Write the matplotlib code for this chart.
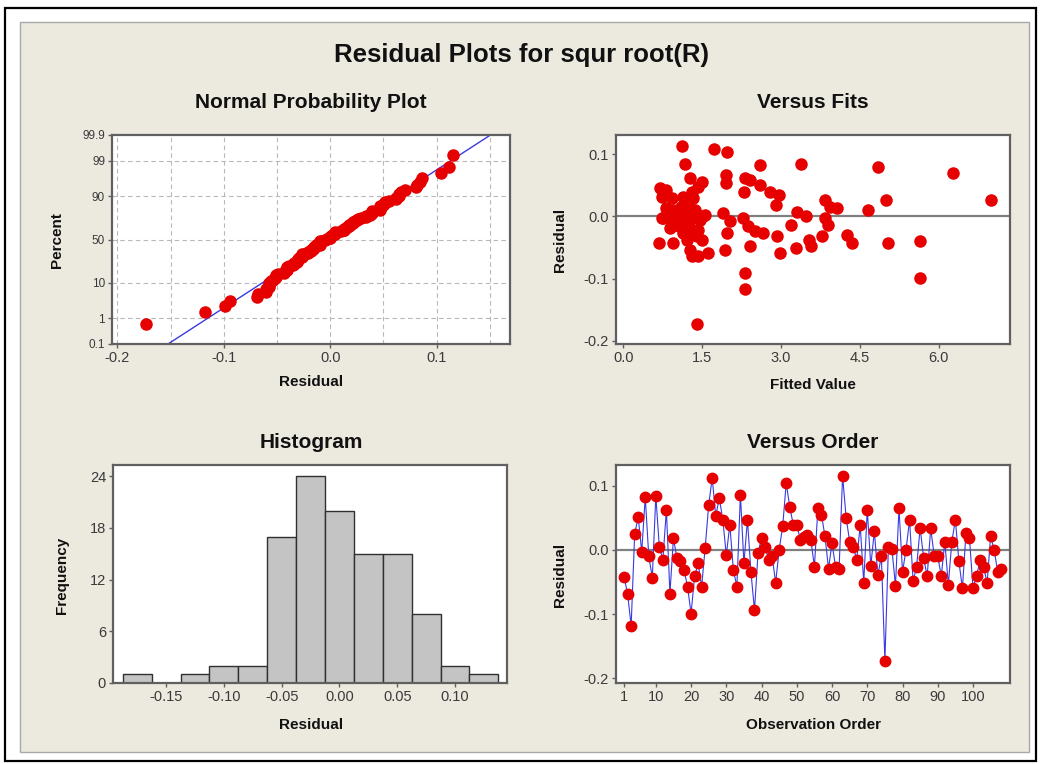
import matplotlib
matplotlib.use("Agg")
import matplotlib.pyplot as plt
from matplotlib.patches import Rectangle
from statistics import NormalDist
import numpy as np

order_resid = [
    -0.042, -0.069, -0.118, 0.025, 0.051, -0.003, 0.082, -0.010, -0.043, 0.084,
    0.004, -0.015, 0.062, -0.068, 0.018, -0.013, -0.018, -0.031, -0.057, -0.099,
    -0.041, -0.021, -0.057, 0.003, 0.070, 0.112, 0.052, 0.081, 0.047, -0.008,
    0.039, -0.031, -0.057, 0.086, -0.021, 0.047, -0.035, -0.094, -0.005, 0.019,
    0.005, -0.016, -0.010, -0.051, 0.000, 0.037, 0.104, 0.067, 0.039, 0.039,
    0.016, 0.020, 0.023, 0.015, -0.026, 0.065, 0.055, 0.021, -0.029, 0.010,
    -0.026, -0.030, 0.115, 0.050, 0.013, 0.005, -0.015, 0.038, -0.051, 0.062,
    -0.025, 0.029, -0.039, -0.010, -0.173, 0.005, 0.001, -0.056, 0.065, -0.034,
    0.000, 0.047, -0.049, -0.026, 0.034, -0.013, -0.041, 0.034, -0.010, -0.010,
    -0.041, 0.013, -0.054, 0.013, 0.047, -0.018, -0.060, 0.026, 0.018, -0.060,
    -0.041, -0.016, -0.026, -0.052, 0.021, 0.000, -0.034, -0.030,
]

# versus fits scatter (fitted value, residual)
fit_values = [
    1.12, 1.73, 1.98, 1.17, 2.60, 3.38, 4.85, 6.28, 7.00, 1.26,
    1.49, 1.43, 1.95, 1.95, 2.32, 2.41, 2.29, 2.60, 2.79, 2.97,
    2.91, 0.70, 0.82, 0.73, 0.92, 1.33, 1.24, 1.09, 1.02, 1.21,
    0.76, 0.95, 1.11, 1.05, 1.24, 1.52, 1.90, 2.03, 1.97, 2.28,
    2.38, 2.51, 2.66, 2.92, 3.20, 3.30, 3.48, 3.84, 3.93, 4.06,
    3.84, 3.90, 3.79, 3.54, 3.57, 3.29, 2.99, 4.25, 4.35, 4.66,
    5.00, 5.04, 5.65, 5.65, 2.32, 2.32, 1.41, 0.67, 0.94, 1.40,
    1.27, 1.30, 1.43, 1.62, 1.93, 2.41, 1.21, 1.49, 0.88, 1.14,
    1.43, 1.55, 1.36, 0.81, 1.14, 1.30, 0.73, 1.46, 1.05, 0.95,
    1.17, 1.33, 1.27, 0.89,
]
fit_resid = [
    0.114, 0.109, 0.103, 0.085, 0.083, 0.085, 0.079, 0.070, 0.027, 0.062,
    0.056, 0.048, 0.067, 0.054, 0.062, 0.059, 0.040, 0.051, 0.040, 0.035,
    0.019, 0.046, 0.043, 0.032, 0.029, 0.029, 0.019, 0.016, 0.005, 0.005,
    -0.003, -0.005, -0.008, -0.016, -0.013, 0.000, 0.005, -0.008, -0.027, -0.003,
    -0.016, -0.024, -0.027, -0.032, -0.013, 0.008, 0.000, 0.027, 0.016, 0.013,
    -0.003, -0.013, -0.032, -0.038, -0.048, -0.051, -0.058, -0.029, -0.043, 0.011,
    0.027, -0.043, -0.040, -0.099, -0.091, -0.117, -0.173, -0.043, -0.043, -0.032,
    -0.054, -0.064, -0.064, -0.058, -0.054, -0.048, -0.038, -0.038, -0.019, -0.027,
    -0.021, 0.003, 0.011, 0.013, 0.032, 0.040, -0.003, -0.005, 0.000, 0.011,
    -0.016, -0.021, -0.005, 0.005,
]

# histogram bins (centres) and counts
hist_centers = [-0.175, -0.150, -0.125, -0.100, -0.075, -0.050, -0.025,
                0.000, 0.025, 0.050, 0.075, 0.100, 0.125]
hist_counts = [1, 0, 1, 2, 2, 17, 24, 20, 15, 15, 8, 2, 1]

prob_ticks = [0.1, 1, 10, 50, 90, 99, 99.9]

W, H = 1041, 764
FONT = ["Liberation Sans", "DejaVu Sans"]
RED = "#E60000"
BLUE = "#3A3AE0"
SPINE = "#606060"
TICKC = "#3A3A3A"

plt.rcParams["font.family"] = FONT

fig = plt.figure(figsize=(W / 100, H / 100), dpi=100)
fig.patch.set_facecolor("white")


def frac_rect(l, t, r, b):
    return [l / W, 1 - b / H, (r - l) / W, (b - t) / H]


def fx(x):
    return x / W


def fy(y):
    return 1 - y / H


# outer frame and beige panel
fig.add_artist(Rectangle((fx(5), fy(761)), (1036 - 5) / W, (761 - 8) / H,
                         transform=fig.transFigure, fill=False,
                         ec="black", lw=1.6, zorder=-2))
fig.add_artist(Rectangle((fx(20), fy(752)), (1029 - 20) / W, (752 - 22) / H,
                         transform=fig.transFigure, fc="#ECE9DF",
                         ec="#A8A8A8", lw=1.0, zorder=-1))


def style_ax(ax):
    ax.set_facecolor("white")
    for s in ax.spines.values():
        s.set_color(SPINE)
        s.set_linewidth(1.6)
    ax.tick_params(direction="out", length=3, width=1, color=SPINE,
                   labelsize=10.5, labelcolor=TICKC, pad=2)


def label_txt(x, y, s, rot=0, size=11):
    fig.text(fx(x), fy(y), s, ha="center", va="center", rotation=rot,
             fontsize=size, fontweight="bold", color="#111111")


# titles
fig.text(fx(521), fy(55), "Residual Plots for squr root(R)", ha="center",
         va="center", fontsize=18.5, fontweight="bold", color="#111111")
label_txt(311, 103, "Normal Probability Plot", size=15)
label_txt(813, 103, "Versus Fits", size=15)
label_txt(311, 443, "Histogram", size=15)
label_txt(813, 443, "Versus Order", size=15)

# ---- normal probability plot
ax1 = fig.add_axes(frac_rect(112, 135, 510, 344))
style_ax(ax1)
res = np.array(order_resid)
srt = np.sort(res)
n = len(srt)
nd = NormalDist()
z = np.array([nd.inv_cdf((i - 0.3) / (n + 0.4)) for i in range(1, n + 1)])
zlim = nd.inv_cdf(0.999)
mu, sd = res.mean(), res.std(ddof=1)
zz = np.array([-zlim, zlim])
ax1.plot(mu + sd * zz, zz, color=BLUE, lw=1.0, zorder=2)
ax1.plot(srt, z, "o", color=RED, ms=8, mec=RED, zorder=3)
ax1.set_xlim(-0.205, 0.169)
ax1.set_ylim(-zlim, zlim)
ax1.set_yticks([nd.inv_cdf(p / 100) for p in prob_ticks])
ax1.set_yticklabels([f"{p:g}" for p in prob_ticks], fontsize=8.5)
ax1.set_xticks([-0.2, -0.1, 0.0, 0.1])
ax1.set_xticklabels(["-0.2", "-0.1", "0.0", "0.1"])
for gx in np.arange(-0.2, 0.16, 0.05):
    ax1.axvline(gx, color="#B8B8B8", lw=0.8, ls=(0, (4, 3)), zorder=1)
for p in prob_ticks[1:-1]:
    ax1.axhline(nd.inv_cdf(p / 100), color="#B8B8B8", lw=0.8,
                ls=(0, (4, 3)), zorder=1)
label_txt(311, 382, "Residual")
label_txt(57, 240, "Percent", rot=90)

# ---- versus fits
ax2 = fig.add_axes(frac_rect(616, 135, 1010, 344))
style_ax(ax2)
ax2.axhline(0, color="#808080", lw=1.6, zorder=1)
ax2.plot(fit_values, fit_resid, "o", color=RED, ms=8, mec=RED, zorder=3)
ax2.set_xlim(-0.14, 7.36)
ax2.set_ylim(-0.205, 0.131)
ax2.set_xticks([0.0, 1.5, 3.0, 4.5, 6.0])
ax2.set_xticklabels(["0.0", "1.5", "3.0", "4.5", "6.0"])
ax2.set_yticks([-0.2, -0.1, 0.0, 0.1])
ax2.set_yticklabels(["-0.2", "-0.1", "0.0", "0.1"])
label_txt(813, 385, "Fitted Value")
label_txt(560, 240, "Residual", rot=90)

# ---- histogram
ax3 = fig.add_axes(frac_rect(113, 465, 507, 683))
style_ax(ax3)
ax3.bar(hist_centers, hist_counts, width=0.025, color="#C4C4C4",
        edgecolor="#303030", lw=1.0, zorder=2)
ax3.set_xlim(-0.196, 0.145)
ax3.set_ylim(0, 25.3)
ax3.set_xticks([-0.15, -0.10, -0.05, 0.00, 0.05, 0.10])
ax3.set_xticklabels(["-0.15", "-0.10", "-0.05", "0.00", "0.05", "0.10"])
ax3.set_yticks([0, 6, 12, 18, 24])
label_txt(311, 725, "Residual")
label_txt(62, 575, "Frequency", rot=90)

# ---- versus order
ax4 = fig.add_axes(frac_rect(616, 465, 1010, 683))
style_ax(ax4)
obs = np.arange(1, len(order_resid) + 1)
ax4.axhline(0, color="#808080", lw=1.6, zorder=1)
ax4.plot(obs, order_resid, "-", color=BLUE, lw=0.8, zorder=2)
ax4.plot(obs, order_resid, "o", color=RED, ms=7.5, mec=RED, zorder=3)
ax4.set_xlim(-1.3, 110.5)
ax4.set_ylim(-0.207, 0.132)
ax4.set_xticks([1, 10, 20, 30, 40, 50, 60, 70, 80, 90, 100])
ax4.set_yticks([-0.2, -0.1, 0.0, 0.1])
ax4.set_yticklabels(["-0.2", "-0.1", "0.0", "0.1"])
label_txt(813, 725, "Observation Order")
label_txt(560, 575, "Residual", rot=90)

fig.savefig("out.png", dpi=100, facecolor=fig.get_facecolor())
